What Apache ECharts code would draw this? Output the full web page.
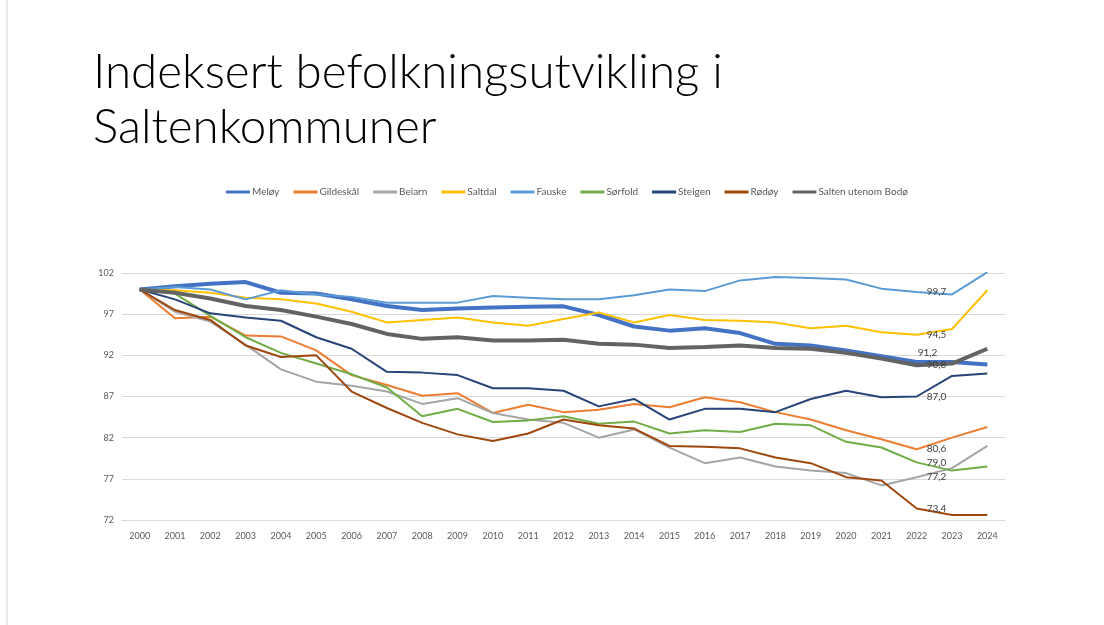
<!DOCTYPE html>
<html>
<head>
<meta charset="utf-8">
<script src="https://cdn.jsdelivr.net/npm/echarts@6/dist/echarts.min.js"></script>
<style>
  html, body { margin: 0; padding: 0; background: #fff; }
</style>
</head>
<body>
<div id="main" style="width: 1104px;height:625px;"></div>
<script>
var years = ["2000", "2001", "2002", "2003", "2004", "2005", "2006", "2007", "2008", "2009", "2010", "2011", "2012",
  "2013", "2014", "2015", "2016", "2017", "2018", "2019", "2020", "2021", "2022", "2023", "2024"];

var meloy = [100, 100.4, 100.7, 100.9, 99.6, 99.5, 98.8, 98.0, 97.5, 97.7, 97.8, 97.9, 97.95, 96.9, 95.5, 95.0, 95.3, 94.7, 93.4, 93.2, 92.6, 91.9, 91.2, 91.2, 90.9];
var gildeskal = [100, 96.5, 96.7, 94.4, 94.3, 92.6, 89.6, 88.4, 87.1, 87.4, 85.0, 86.0, 85.1, 85.4, 86.1, 85.7, 86.9, 86.3, 85.1, 84.2, 82.9, 81.8, 80.6, 82.0, 83.3];
var beiarn = [100, 97.3, 96.1, 93.3, 90.3, 88.8, 88.3, 87.6, 86.1, 86.8, 85.0, 84.2, 83.8, 82.0, 83.0, 80.8, 78.9, 79.6, 78.5, 78.0, 77.7, 76.2, 77.2, 78.3, 81.0];
var saltdal = [100, 99.9, 99.6, 99.0, 98.8, 98.3, 97.3, 96.0, 96.3, 96.6, 96.0, 95.6, 96.4, 97.2, 96.0, 96.9, 96.3, 96.2, 96.0, 95.3, 95.6, 94.8, 94.5, 95.2, 99.9];
var fauske = [100, 100.3, 100.0, 98.8, 99.9, 99.4, 99.1, 98.4, 98.4, 98.4, 99.2, 99.0, 98.8, 98.8, 99.3, 100.0, 99.8, 101.1, 101.5, 101.4, 101.2, 100.1, 99.7, 99.4, 102.1];
var sorfold = [100, 99.5, 96.8, 94.2, 92.3, 91.0, 89.7, 88.1, 84.6, 85.5, 83.9, 84.1, 84.6, 83.7, 83.95, 82.5, 82.9, 82.7, 83.7, 83.5, 81.5, 80.8, 79.0, 78.0, 78.5];
var steigen = [100, 98.8, 97.1, 96.6, 96.2, 94.2, 92.8, 90.0, 89.9, 89.6, 88.0, 88.0, 87.7, 85.8, 86.7, 84.2, 85.5, 85.5, 85.1, 86.7, 87.7, 86.9, 87.0, 89.5, 89.8];
var rodoy = [100, 97.5, 96.3, 93.2, 91.8, 92.0, 87.6, 85.6, 83.8, 82.4, 81.6, 82.5, 84.2, 83.5, 83.1, 81.0, 80.9, 80.7, 79.6, 78.9, 77.2, 76.8, 73.4, 72.6, 72.6];
var salten = [100, 99.6, 98.9, 98.0, 97.5, 96.7, 95.8, 94.6, 94.0, 94.2, 93.8, 93.8, 93.9, 93.4, 93.3, 92.9, 93.0, 93.2, 92.9, 92.8, 92.3, 91.6, 90.8, 91.0, 92.8];

var yTicks = [72, 77, 82, 87, 92, 97, 102];
var labelYear = "2022";

var myChart = echarts.init(document.getElementById("main"));

// punktet for 2022 får datalabel
function withLabel(arr, offset) {
  var idx = years.indexOf(labelYear);
  return arr.map(function (v, i) {
    if (i !== idx) return v;
    var lab = { show: true, position: "right", distance: 10 };
    if (offset) lab.offset = offset;
    return { value: v, label: lab };
  });
}

function mkSeries(name, data, color, width, offset) {
  return {
    name: name,
    type: "line",
    data: withLabel(data, offset),
    symbol: "circle",
    symbolSize: 0,
    showSymbol: true,
    lineStyle: { color: color, width: width },
    itemStyle: { color: color },
    emphasis: { disabled: true },
    label: {
      show: false,
      color: "#404040",
      fontSize: 10,
      fontFamily: "Lato",
      formatter: function (p) { return p.value.toFixed(1).replace(".", ","); }
    },
    animation: false
  };
}

var option = {
  backgroundColor: "#ffffff",
  color: ["#4472C4", "#ED7D31", "#A5A5A5", "#FFC000", "#5B9BD5", "#70AD47", "#264478", "#9E480E", "#636363"],
  title: {
    text: "Indeksert befolkningsutvikling i\nSaltenkommuner",
    left: 88,
    top: 40,
    textStyle: {
      fontFamily: "Lato",
      fontWeight: 300,
      fontSize: 47.5,
      lineHeight: 55,
      color: "#000000"
    }
  },
  legend: {
    left: 221,
    top: 182,
    itemWidth: 24,
    itemHeight: 3,
    itemGap: 14,
    icon: "rect",
    textStyle: { fontSize: 10, color: "#595959", fontFamily: "Lato", padding: [0, 0, 0, -3] },
    data: ["Meløy", "Gildeskål", "Beiarn", "Saltdal", "Fauske", "Sørfold", "Steigen", "Rødøy", "Salten utenom Bodø"]
  },
  grid: {
    left: 122,
    right: 99,
    top: 273,
    bottom: 105,
    containLabel: false
  },
  xAxis: {
    type: "category",
    boundaryGap: true,
    data: years,
    axisLine: { lineStyle: { color: "#d9d9d9" } },
    axisTick: { show: false },
    axisLabel: { color: "#595959", fontSize: 9, fontFamily: "Lato", margin: 12 }
  },
  yAxis: {
    type: "value",
    min: yTicks[0],
    max: yTicks[yTicks.length - 1],
    interval: 5,
    axisLine: { show: false },
    axisTick: { show: false },
    splitLine: { lineStyle: { color: "#d9d9d9" } },
    axisLabel: { color: "#595959", fontSize: 9, fontFamily: "Lato", margin: 8 }
  },
  graphic: [
    { type: "line", shape: { x1: 7, y1: 0, x2: 7, y2: 625 }, style: { stroke: "#d4d4d4", lineWidth: 1 } }
  ],
  series: [
    mkSeries("Meløy", meloy, "#4472C4", 4, [-9, -9]),
    mkSeries("Gildeskål", gildeskal, "#ED7D31", 2),
    mkSeries("Beiarn", beiarn, "#A5A5A5", 2),
    mkSeries("Saltdal", saltdal, "#FFC000", 2),
    mkSeries("Fauske", fauske, "#5B9BD5", 2),
    mkSeries("Sørfold", sorfold, "#70AD47", 2),
    mkSeries("Steigen", steigen, "#264478", 2),
    mkSeries("Rødøy", rodoy, "#9E480E", 2),
    mkSeries("Salten utenom Bodø", salten, "#636363", 4)
  ]
};

myChart.setOption(option);
</script>
</body>
</html>
